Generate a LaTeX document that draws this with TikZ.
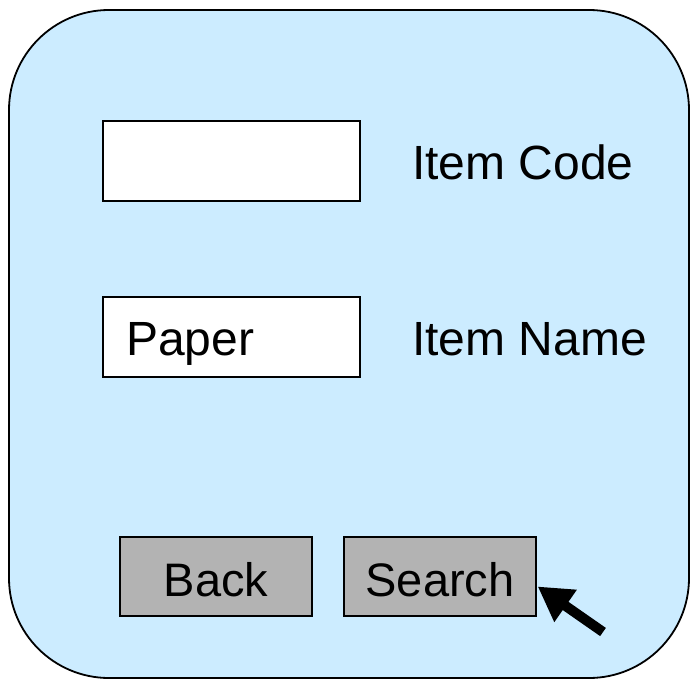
\documentclass[tikz,border=0pt]{standalone}
\usepackage{fontspec}
\setmainfont{Liberation Sans}
\usetikzlibrary{arrows.meta}
\definecolor{panel}{HTML}{CCECFF}
\definecolor{button}{HTML}{B3B3B3}
\tikzset{
  bigtext/.style={font=\fontsize{48}{57}\selectfont, inner sep=0pt},
  field/.style={draw=black, line width=1.4pt, fill=white, minimum width=257pt, minimum height=80pt, inner sep=0pt},
  btn/.style={draw=black, line width=1.4pt, fill=button, minimum width=192pt, minimum height=79pt, inner sep=0pt,
    font=\fontsize{47}{56}\selectfont, text height=40pt, text depth=0pt},
  pointer/.style={line width=10pt, -{Triangle[length=34pt,width=37pt]}}
}
\begin{document}
\begin{tikzpicture}[x=1pt, y=-1pt]
  \useasboundingbox (0,0) rectangle (691,680);
  % window panel
  \draw[fill=panel, line width=1.8pt, rounded corners=100pt] (9,10) rectangle (689,678);
  % input fields
  \node[field] (codebox) at (231.5,161) {};
  \node[field] (namebox) at (231.5,337) {};
  \node[bigtext, anchor=base west] (paper) at (126,355) {Paper};
  % field labels
  \node[bigtext, anchor=base west] (codelbl) at (412,179) {Item Code};
  \node[bigtext, anchor=base west] (namelbl) at (412,355) {Item Name};
  % buttons
  \node[btn] (back) at (216,576.5) {Back};
  \node[btn] (search) at (440,576.5) {Search};
  % mouse pointer on the search button
  \coordinate (tail) at (603,632);
  \draw[pointer] (tail) -- ([xshift=1pt,yshift=-10pt]search.east);
\end{tikzpicture}
\end{document}
